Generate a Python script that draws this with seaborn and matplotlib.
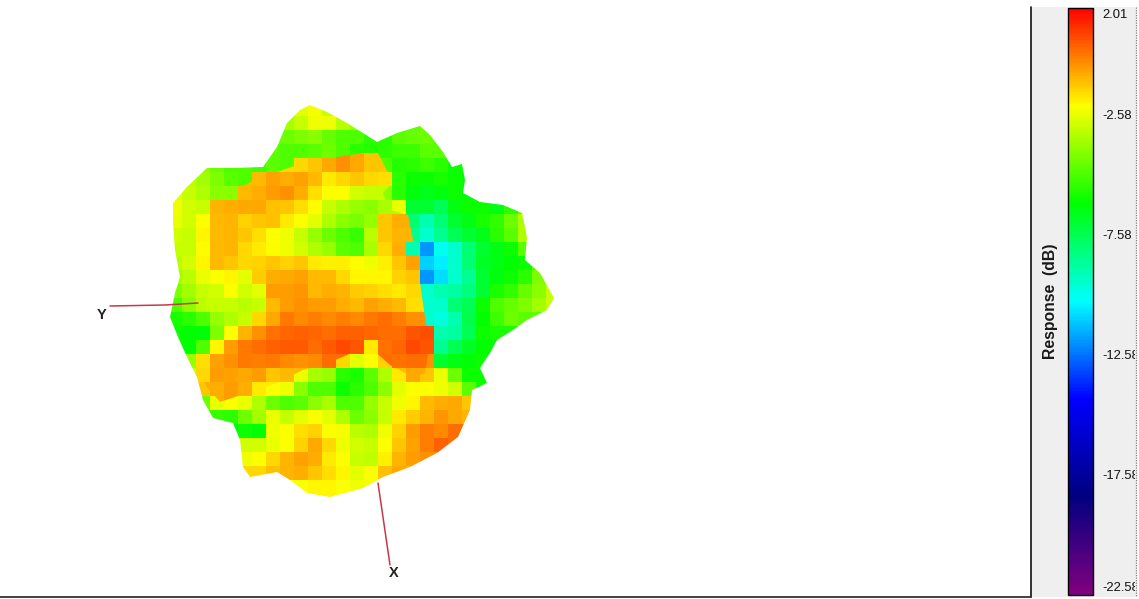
import numpy as np
import pandas as pd
import matplotlib.pyplot as plt
from matplotlib.colors import LinearSegmentedColormap
from matplotlib.patches import Rectangle, Polygon
from matplotlib.path import Path
import seaborn as sns

# ---------------------------
# 1. Data
# ---------------------------
scale_colors = ["#800080", "#000080", "#0000ff", "#00ffff", "#00ff00", "#ffff00", "#ff0000"]
scale_min = -22.58
scale_max = 2.01
scale_labels = ["2.01", "-2.58", "-7.58", "-12.58", "-17.58", "-22.58"]
title = "Response  (dB)"

# first filled column of each row, then the dB values of the facets
row_start = [8, 8, 7, 6, 1, 0, 0, 0, 0, 0, 0, 0, 0, 0, 0, 0, 0, 0, 0, 1, 1, 1, 2, 4, 5, 5, 6, 9, 9]
response_rows = [
    [-3.0, -2.6, -2.3, -3.0],
    [-3.5, -3.0, -2.4, -2.4, -3.2, -3.8, -4.8, -5.0, -5.0, -4.8, -4.5, -4.5],
    [-4.4, -4.5, -4.2, -4.0, -4.6, -5.0, -5.0, -5.5, -5.5, -4.8, -4.6, -4.5, -4.8],
    [-4.5, -4.8, -5.0, -5.0, -4.8, -4.5, -5.0, -5.5, -5.6, -5.5, -5.2, -5.2, -4.8, -4.8, -5.0],
    [-3.8, -4.0, -4.5, -5.0, -5.0, -5.2, -4.8, -5.0, -1.5, -1.2, -0.7, -0.3, -0.7, -1.2, -5.0, -5.6, -5.5, -5.2, -5.5, -6.0],
    [-3.0, -3.2, -3.6, -4.2, -4.8, -5.0, -1.0, -0.6, -0.8, -0.6, -1.0, -1.8, -1.5, -1.2, -1.5, -1.6, -5.5, -6.0, -6.0, -5.8, -6.0, -6.2],
    [-2.6, -3.0, -3.4, -4.0, -4.0, -1.0, -0.8, -0.5, -0.3, -0.8, -1.6, -2.2, -2.2, -2.8, -3.0, -4.0, -5.5, -6.4, -6.6, -6.4, -6.0, -6.3, -6.2],
    [-2.4, -2.8, -3.0, -0.9, -0.8, -0.7, -0.7, -1.1, -1.2, -1.6, -2.1, -3.0, -3.4, -3.8, -4.0, -3.5, -2.5, -7.0, -7.0, -7.5, -6.5, -6.0, -6.0, -6.5, -5.5, -4.6],
    [-2.5, -2.8, -2.2, -1.0, -0.9, -1.4, -1.2, -1.1, -1.8, -2.2, -2.6, -3.4, -4.0, -4.3, -3.8, -1.2, -0.8, -8.0, -9.0, -8.0, -7.0, -6.5, -5.8, -5.4, -4.5, -3.4, -3.6],
    [-2.8, -3.0, -2.0, -1.0, -0.9, -1.2, -1.6, -2.2, -2.4, -3.0, -3.8, -4.5, -5.0, -5.3, -3.2, -1.2, -0.9, -8.5, -9.5, -8.5, -7.5, -7.0, -6.6, -5.5, -4.8, -3.4, -3.2],
    [-3.0, -3.0, -2.1, -1.0, -0.9, -1.5, -1.8, -2.1, -2.4, -2.8, -3.4, -3.8, -4.8, -5.0, -3.5, -1.5, -0.8, -9.0, -12.0, -10.0, -9.5, -8.0, -7.0, -6.5, -6.0, -4.8, -4.4],
    [-3.2, -2.8, -2.0, -1.0, -1.2, -1.5, -1.4, -1.2, -1.4, -1.2, -1.8, -1.9, -1.9, -2.1, -2.4, -1.9, -1.2, -0.6, -11.0, -10.5, -9.5, -8.0, -6.8, -6.5, -6.2, -6.0, -5.0, -4.0],
    [-3.6, -3.2, -2.5, -2.2, -2.0, -2.6, -1.3, -0.8, -0.7, -0.6, -1.0, -1.0, -1.5, -2.0, -2.0, -2.0, -1.4, -1.2, -12.0, -10.8, -9.5, -8.5, -7.0, -6.4, -6.0, -5.5, -4.2, -3.6],
    [-4.2, -3.6, -3.0, -2.8, -2.2, -2.8, -2.6, -0.5, -0.5, -0.4, -1.0, -0.8, -0.9, -1.3, -1.4, -1.6, -1.8, -1.5, -9.5, -9.0, -8.8, -8.2, -7.0, -5.8, -5.4, -4.6, -4.0, -3.0],
    [-5.0, -4.0, -3.2, -3.0, -3.0, -3.2, -3.0, -1.0, -0.5, -0.3, -0.5, -0.5, -0.8, -1.0, -0.6, -0.8, -1.0, -1.6, -9.5, -9.5, -8.0, -7.5, -6.0, -5.0, -4.6, -4.2, -3.6, -3.0],
    [-5.8, -5.5, -5.0, -3.8, -3.4, -3.0, -1.5, -0.7, 0.0, -0.2, -0.1, -0.2, -0.1, -0.2, 0.0, 0.2, -0.1, -0.3, -9.5, -9.8, -9.0, -7.4, -6.2, -5.2, -4.5, -4.8],
    [-6.0, -6.2, -6.3, -4.2, -2.2, -0.9, -0.3, 0.1, 0.3, 0.4, 0.3, 0.2, 0.4, 0.4, 0.3, 0.2, 0.2, 0.6, 0.7, -9.0, -8.8, -7.5, -6.0, -5.8],
    [-6.0, -6.2, -5.0, -2.0, -0.5, 0.0, 0.2, 0.4, 0.5, 0.5, 0.2, 0.5, 0.8, 0.6, -1.8, 0.1, 0.3, 0.8, 0.6, -8.5, -7.5, -6.8, -6.2],
    [-4.5, -3.8, -1.6, -0.6, -0.3, 0.0, -0.1, 0.0, -0.2, -0.3, -0.2, 0.2, -1.5, -2.6, -2.2, -1.4, 0.1, 0.2, -0.3, -7.0, -6.5, -6.3, -6.0],
    [-3.0, -1.5, -0.5, -0.6, -0.7, -0.5, -1.2, -1.0, -2.5, -3.5, -3.8, -5.5, -5.8, -4.8, -3.4, -1.8, -0.7, -1.2, -2.5, -4.5, -6.0, -6.0, -6.0],
    [-2.5, -1.2, -0.8, -0.5, -0.8, -1.8, -2.2, -2.4, -4.0, -5.0, -5.0, -6.0, -5.5, -5.0, -4.0, -2.6, -2.2, -2.2, -2.4, -2.8, -4.8, -6.0, -5.8],
    [-3.5, -4.5, -2.5, -2.2, -2.5, -3.4, -4.5, -5.0, -4.8, -4.0, -3.5, -5.0, -5.0, -3.8, -3.0, -2.4, -2.0, -1.0, -0.8, -0.7, -1.2, -3.0],
    [-5.0, -5.3, -5.5, -4.5, -3.6, -2.5, -3.0, -2.6, -2.2, -2.6, -3.4, -4.5, -4.0, -3.0, -1.8, -1.3, -0.9, -0.4, -0.7, -0.9],
    [-6.2, -6.0, -6.2, -2.4, -2.2, -1.6, -1.4, -2.2, -2.3, -3.2, -3.4, -2.4, -1.4, -0.5, -0.1, -0.2, 0.2, 0.1],
    [-2.8, -2.8, -2.5, -2.2, -1.4, -0.7, -1.5, -2.4, -2.8, -3.0, -2.2, -1.2, -0.6, -0.1, 0.4, 0.2],
    [-2.4, -2.2, -1.5, -0.9, -0.6, -0.8, -1.8, -2.2, -3.0, -3.1, -1.9, -0.9, -0.5, -0.3],
    [-1.5, -1.1, -0.9, -0.8, -1.2, -1.6, -2.0, -2.6, -2.2, -1.1, -0.7, -1.0],
    [-2.2, -2.0, -2.0, -2.2, -2.4, -2.3, -1.4],
    [-2.2, -2.0, -2.0, -2.2, -2.4, -2.3, -1.4],
]

# silhouette of the pattern, picture pixels
outline_x = [310, 327, 347, 363, 377, 397, 420, 430, 443, 452, 462, 465, 463, 480, 503, 522, 527, 525, 540, 554,
             547, 527, 513, 497, 490, 480, 487, 472, 470, 458, 437, 410, 383, 363, 330, 307, 290, 277, 250, 243,
             240, 233, 213, 203, 197, 187, 178, 170, 175, 180, 175, 173, 173, 187, 207, 233, 263, 277, 287, 300]
outline_y = [105, 112, 123, 133, 142, 133, 126, 135, 152, 167, 164, 180, 193, 202, 205, 213, 237, 260, 273, 298,
             310, 320, 330, 340, 353, 368, 383, 390, 410, 437, 453, 467, 477, 488, 497, 493, 480, 472, 477, 467,
             440, 423, 418, 400, 377, 357, 337, 317, 293, 277, 250, 223, 203, 187, 168, 168, 167, 147, 123, 110]

# front lobe that folds over the rest of the surface
lobe_x = [213, 233, 263, 297, 330, 363, 378, 388, 392, 383, 390, 408, 413, 418, 422, 427, 428, 425, 413, 390, 373,
          363, 347, 323, 303, 277, 247, 220, 207, 198, 198, 202, 207, 213, 210]
lobe_y = [205, 190, 177, 165, 158, 153, 153, 173, 183, 193, 210, 215, 240, 267, 297, 330, 353, 373, 377, 365, 350,
          343, 355, 365, 370, 383, 393, 402, 387, 370, 357, 323, 297, 263, 230]

# axis stubs of the 3D view
y_axis_x = [110, 165, 198]
y_axis_y = [306, 305, 303]
x_axis_x = [378, 390]
x_axis_y = [483, 565]

# ---------------------------
# 2. Figure setup
# ---------------------------
sns.set_theme(style="white")
plt.rcParams['font.family'] = ['Liberation Sans', 'DejaVu Sans']

W, H = 1139, 599
CELL = 14
LEFT, TOP = 168, 102
label_y = [15, 116, 236, 356, 476, 588]

n_cols = 28
n_rows = len(response_rows)
grid = np.full((n_rows, n_cols), np.nan)
for r, row in enumerate(response_rows):
    grid[r, row_start[r]:row_start[r] + len(row)] = row

# cell centres in picture pixels, to know which facets belong to the front lobe
cx, cy = np.meshgrid(LEFT + CELL * (np.arange(n_cols) + 0.5), TOP + CELL * (np.arange(n_rows) + 0.5))
inside = Path(np.column_stack([lobe_x, lobe_y])).contains_points(np.column_stack([cx.ravel(), cy.ravel()]))
inside = inside.reshape(n_rows, n_cols)

# cells past an edge just repeat their neighbour, the clip hides them
back = pd.DataFrame(grid).ffill(axis=1).bfill(axis=1)
front = pd.DataFrame(grid).where(inside).ffill(axis=1).bfill(axis=1).ffill(axis=0).bfill(axis=0)

cmap = LinearSegmentedColormap.from_list("response", scale_colors)


def px_axes(x0, y0, x1, y1, **kw):
    return fig.add_axes([x0 / W, 1 - y1 / H, (x1 - x0) / W, (y1 - y0) / H], **kw)


fig = plt.figure(figsize=(W / 100, H / 100), dpi=100, facecolor="white")

panel = px_axes(1032, 7, 1136, 597)
panel.set_facecolor("#efefef")
panel.set_xticks([])
panel.set_yticks([])
for s in panel.spines.values():
    s.set_visible(False)

canvas = px_axes(0, 0, W, H)
canvas.set_xlim(0, W)
canvas.set_ylim(H, 0)
canvas.set_axis_off()
canvas.set_zorder(3)

# ---------------------------
# 3. Side panel
# ---------------------------
canvas.plot([1031, 1031], [7, 597], color="#111111", lw=1.2)
canvas.plot([0, 1031], [596.5, 596.5], color="#333333", lw=1.3)
canvas.plot([1135.5, 1135.5], [7, 597], color="#777777", lw=0.9, ls=(0, (1, 1)))

canvas.text(1051, 301, title, rotation=90, ha="center", va="center",
            fontsize=11.3, fontweight="bold", color="#1a1a1a")

clip_box = Rectangle((1095, 0), 40, H, transform=canvas.transData)
for txt, yy in zip(scale_labels, label_y):
    t = canvas.text(1102, yy, txt, ha="left", va="center", fontsize=9.4, color="#111111")
    t.set_clip_path(clip_box)
    t.set_clip_on(True)

# ---------------------------
# 4. Response surface and its colour bar
# ---------------------------
ax = px_axes(LEFT, TOP, LEFT + n_cols * CELL, TOP + n_rows * CELL)
cax = px_axes(1067.5, 7.5, 1093, 595)
sns.heatmap(back, ax=ax, cbar_ax=cax, cmap=cmap, vmin=scale_min, vmax=scale_max,
            xticklabels=False, yticklabels=False, linewidths=0, cbar_kws={"ticks": []})
sns.heatmap(front, ax=ax, cbar=False, cmap=cmap, vmin=scale_min, vmax=scale_max,
            xticklabels=False, yticklabels=False, linewidths=0)
ax.set_axis_off()

cbar = ax.collections[0].colorbar
cbar.outline.set_edgecolor("black")
cbar.outline.set_linewidth(1.0)
cbar.outline.set_visible(True)

silhouette = Polygon(np.column_stack([outline_x, outline_y]), closed=True,
                     transform=canvas.transData, facecolor="none", edgecolor="none")
canvas.add_patch(silhouette)
lobe = Polygon(np.column_stack([lobe_x, lobe_y]), closed=True,
               transform=canvas.transData, facecolor="none", edgecolor="none")
canvas.add_patch(lobe)
ax.collections[0].set_clip_path(silhouette)
ax.collections[1].set_clip_path(lobe)

# ---------------------------
# 5. Axis stubs
# ---------------------------
for xs, ys in [(y_axis_x, y_axis_y), (x_axis_x, x_axis_y)]:
    sns.lineplot(x=xs, y=ys, ax=canvas, color="#c8384a", lw=1.1, estimator=None, sort=False, legend=False)
canvas.set_xlim(0, W)
canvas.set_ylim(H, 0)

canvas.text(102, 315, "Y", ha="center", va="center", fontsize=10.5, fontweight="bold", color="#222222")
canvas.text(394, 573, "X", ha="center", va="center", fontsize=10.5, fontweight="bold", color="#222222")

plt.savefig("out.png", dpi=100)
